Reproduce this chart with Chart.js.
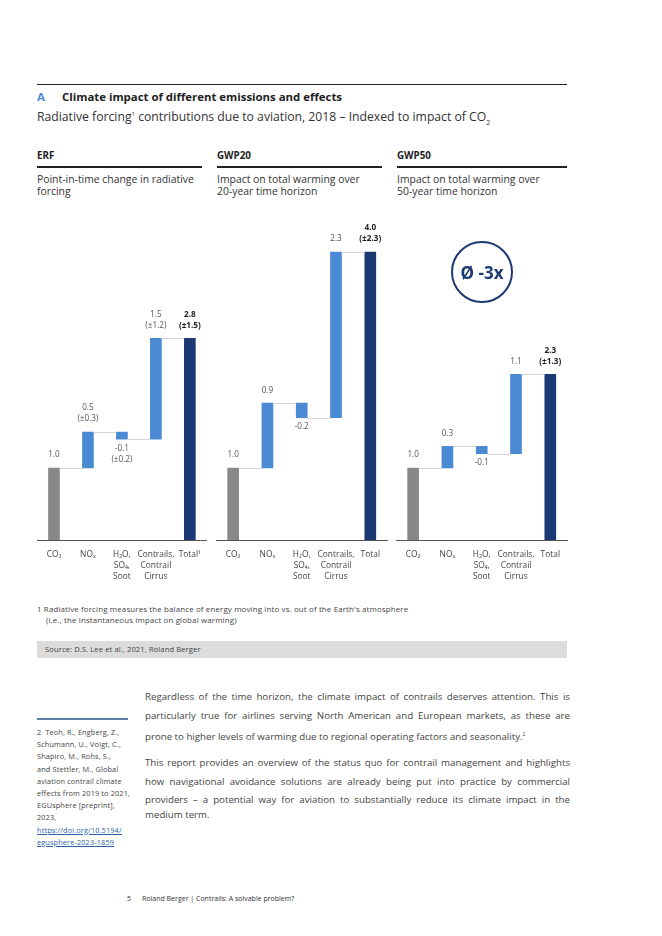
<!DOCTYPE html>
<html>
<head>
<meta charset="utf-8">
<script src="https://cdn.jsdelivr.net/npm/chart.js@4.4.0/dist/chart.umd.min.js"></script>
<style>
  body { margin: 0; background: #fff; font-family: "Open Sans", "Noto Sans", sans-serif; color: #333; }
  #page { position: relative; width: 662px; height: 936px; overflow: hidden; }
  .t { position: absolute; white-space: nowrap; }
  .rule { position: absolute; }
  canvas { position: absolute; }
  .jl { position: absolute; left: 145px; width: 425px; font-size: 9.7px; line-height: 14px; color: #444; text-align: justify; text-align-last: justify; white-space: nowrap; }
  .sn { position: absolute; left: 37px; font-size: 7.3px; line-height: 10px; color: #444; white-space: nowrap; letter-spacing: 0.15px; }
  .sn a { color: #2a5fa8; text-decoration: underline; }
</style>
</head>
<body>
<div id="page">
  <div class="rule" style="left:37px;top:84px;width:530px;height:1px;background:#222"></div>
  <div class="t" style="left:37px;top:90px;font-size:11.4px;line-height:14px;font-weight:bold;color:#4a8ad3">A</div>
  <div class="t" style="left:62px;top:90px;font-size:11.4px;line-height:14px;font-weight:bold;color:#222">Climate impact of different emissions and effects</div>
  <div class="t" style="left:37px;top:107px;font-size:12.2px;line-height:14px;color:#333">Radiative forcing<sup style="font-size:6px">1</sup> contributions due to aviation, 2018 – Indexed to impact of CO<sub style="font-size:7px">2</sub></div>

  <div class="t" style="left:37px;top:150px;font-size:9.8px;line-height:12px;font-weight:bold;color:#222">ERF</div>
  <div class="t" style="left:217px;top:150px;font-size:9.8px;line-height:12px;font-weight:bold;color:#222">GWP20</div>
  <div class="t" style="left:397px;top:150px;font-size:9.8px;line-height:12px;font-weight:bold;color:#222">GWP50</div>
  <div class="rule" style="left:37px;top:166px;width:165px;height:2px;background:#222"></div>
  <div class="rule" style="left:217px;top:166px;width:165px;height:2px;background:#222"></div>
  <div class="rule" style="left:397px;top:166px;width:170px;height:2px;background:#222"></div>
  <div class="t" style="left:37px;top:174px;font-size:10.4px;line-height:11.5px;color:#333">Point-in-time change in radiative<br>forcing</div>
  <div class="t" style="left:217px;top:174px;font-size:10.4px;line-height:11.5px;color:#333">Impact on total warming over<br>20-year time horizon</div>
  <div class="t" style="left:397px;top:174px;font-size:10.4px;line-height:11.5px;color:#333">Impact on total warming over<br>50-year time horizon</div>

  <canvas id="erf" width="173" height="400" style="left:36.75px;top:200px"></canvas>
  <canvas id="gwp20" width="173" height="400" style="left:216.3px;top:200px"></canvas>
  <canvas id="gwp50" width="173" height="400" style="left:395.75px;top:200px"></canvas>

  <div style="position:absolute;left:451px;top:241px;width:58px;height:58px;border:2px solid #1c3872;border-radius:50%;display:flex;align-items:center;justify-content:center;font-size:17px;font-weight:bold;color:#1c3872">Ø -3x</div>

  <div class="t" style="left:37px;top:604px;font-size:7.9px;line-height:10px;color:#444;letter-spacing:0.15px">1 Radiative forcing measures the balance of energy moving into vs. out of the Earth's atmosphere</div>
  <div class="t" style="left:46px;top:615px;font-size:7.9px;line-height:10px;color:#444;letter-spacing:0.15px">(i.e., the instantaneous impact on global warming)</div>
  <div class="rule" style="left:37px;top:641px;width:530px;height:17px;background:#dcdcdc"></div>
  <div class="t" style="left:45px;top:644px;font-size:7.6px;line-height:10px;color:#444;letter-spacing:0.1px">Source: D.S. Lee et al., 2021, Roland Berger</div>

  <div class="jl" style="top:690px">Regardless of the time horizon, the climate impact of contrails deserves attention. This is</div>
  <div class="jl" style="top:709px">particularly true for airlines serving North American and European markets, as these are</div>
  <div class="jl" style="top:727px;text-align-last:left">prone to higher levels of warming due to regional operating factors and seasonality.<sup style="font-size:5px">2</sup></div>
  <div class="jl" style="top:756px">This report provides an overview of the status quo for contrail management and highlights</div>
  <div class="jl" style="top:775px">how navigational avoidance solutions are already being put into practice by commercial</div>
  <div class="jl" style="top:793px">providers – a potential way for aviation to substantially reduce its climate impact in the</div>
  <div class="jl" style="top:808px;text-align-last:left">medium term.</div>

  <div class="rule" style="left:37px;top:718px;width:91px;height:2px;background:#5b7fa6"></div>
  <div class="sn" style="top:727px">2&nbsp; Teoh, R., Engberg, Z.,</div>
  <div class="sn" style="top:739.2px">Schumann, U., Voigt, C.,</div>
  <div class="sn" style="top:751.4px">Shapiro, M., Rohs, S.,</div>
  <div class="sn" style="top:763.6px">and Stettler, M., Global</div>
  <div class="sn" style="top:775.8px">aviation contrail climate</div>
  <div class="sn" style="top:788px">effects from 2019 to 2021,</div>
  <div class="sn" style="top:800.2px">EGUsphere [preprint],</div>
  <div class="sn" style="top:812.4px">2023,</div>
  <div class="sn" style="top:824.6px"><a>https://doi.org/10.5194/</a></div>
  <div class="sn" style="top:836.8px"><a>egusphere-2023-1859</a></div>

  <div class="t" style="left:127px;top:894px;font-size:7px;line-height:9px;color:#333">5</div>
  <div class="t" style="left:142px;top:894px;font-size:7px;line-height:9px;color:#333">Roland Berger | Contrails: A solvable problem?</div>
</div>

<script>
// categories shared by the three waterfalls
var categories = ['CO₂', 'NOₓ', ['H₂O,', 'SO₄,', 'Soot'], ['Contrails,', 'Contrail', 'Cirrus'], 'Total'];
var erfCategories = ['CO₂', 'NOₓ', ['H₂O,', 'SO₄,', 'Soot'], ['Contrails,', 'Contrail', 'Cirrus'], 'Total¹'];

// bar start / end values (indexed to CO2 = 1.0)
var erfStart = [0, 1.0, 1.5, 1.4, 0];
var erfEnd = [1.0, 1.5, 1.4, 2.8, 2.8];
var gwp20Start = [0, 1.0, 1.9, 1.7, 0];
var gwp20End = [1.0, 1.9, 1.7, 4.0, 4.0];
var gwp50Start = [0, 1.0, 1.3, 1.2, 0];
var gwp50End = [1.0, 1.3, 1.2, 2.3, 2.3];

// value labels written next to the bars
var erfLabels = [['1.0'], ['0.5', '(±0.3)'], ['-0.1', '(±0.2)'], ['1.5', '(±1.2)'], ['2.8', '(±1.5)']];
var gwp20Labels = [['1.0'], ['0.9'], ['-0.2'], ['2.3'], ['4.0', '(±2.3)']];
var gwp50Labels = [['1.0'], ['0.3'], ['-0.1'], ['1.1'], ['2.3', '(±1.3)']];

var barColors = ['#888888', '#4a8ad3', '#4a8ad3', '#4a8ad3', '#1c3872'];
var fontFamily = '"Open Sans", "Noto Sans", sans-serif';

// draws the grey connector lines and the value labels
var waterfallPlugin = {
  id: 'waterfall',
  afterDatasetsDraw: function (chart) {
    var ctx = chart.ctx;
    var bars = chart.getDatasetMeta(0).data;
    var y = chart.scales.y;
    var opts = chart.options.plugins.waterfall;
    ctx.save();
    ctx.strokeStyle = '#d3d3d3';
    ctx.lineWidth = 1;
    for (var i = 0; i < bars.length - 1; i++) {
      var level = Math.round(y.getPixelForValue(opts.end[i])) + 0.5;
      ctx.beginPath();
      ctx.moveTo(bars[i].x + bars[i].width / 2, level);
      ctx.lineTo(bars[i + 1].x - bars[i + 1].width / 2, level);
      ctx.stroke();
    }
    ctx.textAlign = 'center';
    ctx.textBaseline = 'middle';
    for (var j = 0; j < bars.length; j++) {
      var lines = opts.labels[j];
      var last = j === bars.length - 1;
      ctx.font = (last ? 'bold ' : '') + '8.2px ' + fontFamily;
      ctx.fillStyle = last ? '#222' : '#555';
      var s = opts.start[j], e = opts.end[j];
      if (e >= s) {
        var top = y.getPixelForValue(e);
        for (var k = 0; k < lines.length; k++) {
          ctx.fillText(lines[k], bars[j].x, top - 13 - (lines.length - 1 - k) * 11);
        }
      } else {
        var bottom = y.getPixelForValue(e);
        for (var m = 0; m < lines.length; m++) {
          ctx.fillText(lines[m], bars[j].x, bottom + 9 + m * 11);
        }
      }
    }
    ctx.restore();
  }
};

function makeWaterfall(id, labels, start, end, valueLabels) {
  var pairs = start.map(function (s, i) { return [s, end[i]]; });
  return new Chart(document.getElementById(id), {
    type: 'bar',
    data: {
      labels: labels,
      datasets: [{ data: pairs, backgroundColor: barColors, barThickness: 11, borderWidth: 0 }]
    },
    options: {
      responsive: false,
      animation: false,
      layout: { padding: { top: 16, left: 0, right: 0, bottom: 0 } },
      scales: {
        x: {
          grid: { display: false, drawTicks: false },
          border: { display: true, color: '#555', width: 1 },
          ticks: { padding: 9, autoSkip: false, maxRotation: 0, color: '#444',
                   font: { size: 8.4, family: fontFamily, lineHeight: 1.31 } },
          afterFit: function (scale) { scale.height = 60; }
        },
        y: { display: false, min: 0, max: 4.5 }
      },
      plugins: {
        legend: { display: false },
        tooltip: { enabled: false },
        waterfall: { start: start, end: end, labels: valueLabels }
      }
    },
    plugins: [waterfallPlugin]
  });
}

makeWaterfall('erf', erfCategories, erfStart, erfEnd, erfLabels);
makeWaterfall('gwp20', categories, gwp20Start, gwp20End, gwp20Labels);
makeWaterfall('gwp50', categories, gwp50Start, gwp50End, gwp50Labels);
</script>
</body>
</html>
